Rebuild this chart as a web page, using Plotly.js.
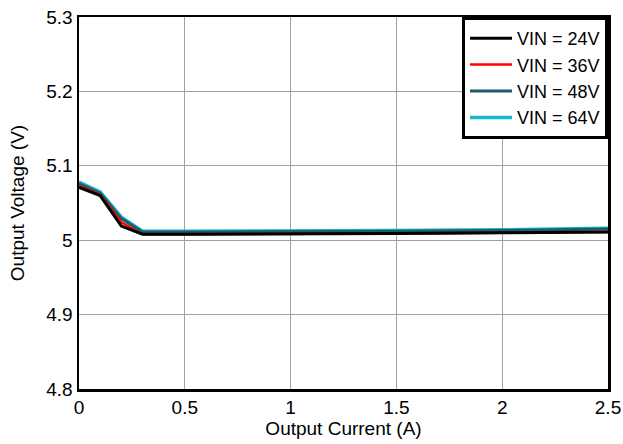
<!DOCTYPE html>
<html>
<head>
<meta charset="utf-8">
<script src="https://cdn.plot.ly/plotly-3.0.1.min.js"></script>
<style>html,body{margin:0;padding:0;background:#fff;}#chart{width:623px;height:444px;}</style>
</head>
<body>
<div id="chart"></div>
<script>
const current = [0, 0.1, 0.2, 0.3, 0.5, 1.0, 1.5, 2.0, 2.5];
const vin24 = [5.071, 5.060, 5.019, 5.008, 5.008, 5.008, 5.009, 5.010, 5.011];
const vin36 = [5.073, 5.061, 5.024, 5.008, 5.008, 5.009, 5.009, 5.010, 5.011];
const vin48 = [5.076, 5.063, 5.029, 5.011, 5.011, 5.011, 5.012, 5.013, 5.015];
const vin64 = [5.078, 5.065, 5.031, 5.012, 5.012, 5.012, 5.013, 5.014, 5.016];
const seriesNames = ['VIN = 24V', 'VIN = 36V', 'VIN = 48V', 'VIN = 64V'];
const seriesColors = ['#000000', '#ff0000', '#1d5c6b', '#12b8cc'];

const ys = [vin24, vin36, vin48, vin64];
const widths = [3, 2.5, 3, 3.5];
const traces = ys.map((y, i) => ({
  x: current, y: y, type: 'scatter', mode: 'lines', name: seriesNames[i],
  line: {color: seriesColors[i], width: widths[i]}
})).reverse();

const font = {family: 'Liberation Sans, Arial, sans-serif', size: 19, color: '#000'};
const layout = {
  width: 623, height: 444,
  margin: {l: 79, r: 15, t: 17, b: 55},
  paper_bgcolor: '#fff', plot_bgcolor: '#fff',
  font: font,
  showlegend: true,
  legend: {
    x: 1, xanchor: 'right', y: 1, yanchor: 'top',
    bordercolor: '#000', borderwidth: 3, bgcolor: '#fff',
    font: {family: font.family, size: 18, color: '#000'},
    itemwidth: 42,
    traceorder: 'reversed'
  },
  xaxis: {
    range: [0, 2.5], dtick: 0.5, tick0: 0,
    showgrid: true, gridcolor: '#a0a0a0', gridwidth: 1,
    showline: true, linecolor: '#000', linewidth: 2.5, mirror: true,
    ticks: '', zeroline: false,
    tickfont: font,
    title: {text: 'Output Current (A)', font: font, standoff: 2}
  },
  yaxis: {
    range: [4.8, 5.3], dtick: 0.1, tick0: 4.8,
    showgrid: true, gridcolor: '#a0a0a0', gridwidth: 1,
    showline: true, linecolor: '#000', linewidth: 2.5, mirror: true,
    ticks: '', zeroline: false,
    tickfont: font,
    title: {text: 'Output Voltage (V)', font: font, standoff: 17}
  }
};
Plotly.newPlot('chart', traces, layout, {displayModeBar: false, staticPlot: true});
</script>
</body>
</html>
